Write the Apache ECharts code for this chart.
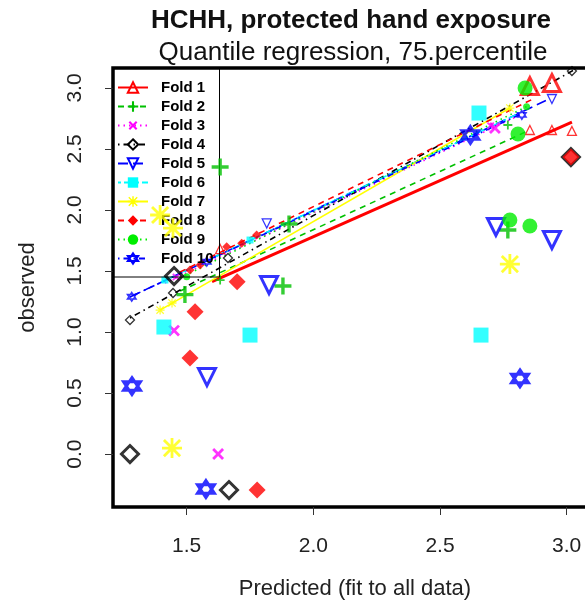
<!DOCTYPE html>
<html>
<head>
<meta charset="utf-8">
<script src="https://cdn.jsdelivr.net/npm/echarts@6/dist/echarts.min.js"></script>
<style>
html, body { margin: 0; padding: 0; background: #fff; }
#chart { width: 585px; height: 608px; }
</style>
</head>
<body>
<div id="chart"></div>
<script>
// ---- data ----
const foldNames = ['Fold 1', 'Fold 2', 'Fold 3', 'Fold 4', 'Fold 5', 'Fold 6', 'Fold 7', 'Fold 8', 'Fold 9', 'Fold 10'];
const xTicks = [1.5, 2.0, 2.5, 3.0];
const yTicks = [0.0, 0.5, 1.0, 1.5, 2.0, 2.5, 3.0];

// held-out observations per fold: [predicted (all data), observed]
const fold1Observed = [[2.855, 3.016], [2.942, 3.041]];
const fold2Observed = [[1.632, 2.352], [1.904, 1.885], [1.493, 1.307], [2.768, 1.836], [1.880, 1.377]];
const fold3Observed = [[2.717, 2.672], [1.450, 1.012], [1.624, 0.0]];
const fold4Observed = [[1.276, 0.0], [1.667, -0.295], [3.017, 2.434], [1.450, 1.459]];
const fold5Observed = [[1.825, 1.385], [1.580, 0.631], [2.721, 1.861], [2.942, 1.754]];
const fold6Observed = [[1.410, 1.041], [1.750, 0.975], [2.662, 0.975], [2.654, 2.795]];
const fold7Observed = [[1.395, 1.959], [1.446, 1.852], [1.442, 0.049], [2.776, 1.557]];
const fold8Observed = [[1.699, 1.412], [1.533, 1.166], [1.513, 0.787], [1.778, -0.295], [3.017, 2.434]];
const fold9Observed = [[2.836, 3.0], [2.776, 1.918], [2.855, 1.869], [2.808, 2.623]];
const fold10Observed = [[1.284, 0.557], [1.576, -0.287], [2.816, 0.620], [2.620, 2.615]];

// fold-model predictions (small symbols)
const fold1Fitted = [[1.632, 1.680], [2.855, 2.656], [2.942, 2.656], [3.021, 2.648]];
const fold2Fitted = [[1.632, 1.426], [2.768, 2.697]];
const fold3Fitted = [[1.458, 1.451], [2.700, 2.690]];
const fold4Fitted = [[1.276, 1.098], [1.446, 1.320], [1.663, 1.607], [3.021, 3.139]];
const fold5Fitted = [[2.942, 2.910], [1.816, 1.890]];
const fold6Fitted = [[1.414, 1.426], [1.750, 1.754]];
const fold7Fitted = [[1.395, 1.180], [1.442, 1.238], [2.776, 2.836]];
const fold8Fitted = [[1.513, 1.508], [1.553, 1.549], [1.658, 1.699], [1.717, 1.727], [1.776, 1.795]];
const fold9Fitted = [[1.500, 1.453], [2.842, 2.847]];
const fold10Fitted = [[1.283, 1.289], [1.579, 1.576], [2.823, 2.779]];

// 75th percentile regression line per fold (end points)
const fold1Line = [[1.600, 1.414], [3.021, 2.721]];
const fold2Line = [[1.474, 1.336], [2.855, 2.656]];
const fold3Line = [[1.414, 1.402], [2.816, 2.779]];
const fold4Line = [[1.276, 1.115], [3.029, 3.148]];
const fold5Line = [[1.276, 1.287], [2.923, 2.902]];
const fold6Line = [[1.400, 1.410], [2.800, 2.780]];
const fold7Line = [[1.395, 1.180], [2.776, 2.836]];
const fold8Line = [[1.474, 1.492], [2.875, 2.918]];
const fold9Line = [[1.474, 1.443], [2.855, 2.861]];
const fold10Line = [[1.276, 1.287], [2.836, 2.803]];

const observedSets = [fold1Observed, fold2Observed, fold3Observed, fold4Observed, fold5Observed,
  fold6Observed, fold7Observed, fold8Observed, fold9Observed, fold10Observed];
const fittedSets = [fold1Fitted, fold2Fitted, fold3Fitted, fold4Fitted, fold5Fitted,
  fold6Fitted, fold7Fitted, fold8Fitted, fold9Fitted, fold10Fitted];
const lineSets = [fold1Line, fold2Line, fold3Line, fold4Line, fold5Line,
  fold6Line, fold7Line, fold8Line, fold9Line, fold10Line];

// ---- symbols & styles ----
const PLUS = 'path://M8,0H12V8H20V12H12V20H8V12H0V8H8Z';
const ASTER = 'path://M8.6,0H11.4V8.6H20V11.4H11.4V20H8.6V11.4H0V8.6H8.6Z' +
  'M2.9,0.9L10,8L17.1,0.9L19.1,2.9L12,10L19.1,17.1L17.1,19.1L10,12L2.9,19.1L0.9,17.1L8,10L0.9,2.9Z';
const HEXAGRAM = 'path://M10,0L18.66,15L1.34,15ZM10,20L1.34,5L18.66,5Z';

const styles = [
  { color: '#ff0000', symbol: 'triangle', open: true, dash: 'solid', width: 3 },
  { color: '#00c000', symbol: PLUS, dash: [6, 5], width: 1.6 },
  { color: '#ff00ff', symbol: PLUS, rotate: 45, dash: [1.5, 4], width: 1.6 },
  { color: '#000000', symbol: 'diamond', open: true, dash: [1.5, 4, 6, 4], width: 1.6 },
  { color: '#0000ff', symbol: 'triangle', rotate: 180, open: true, dash: [10, 5], width: 1.6 },
  { color: '#00ffff', symbol: 'rect', dash: [3, 3, 9, 3], width: 1.6 },
  { color: '#ffff00', symbol: ASTER, dash: 'solid', width: 1.6 },
  { color: '#ff0000', symbol: 'diamond', dash: [6, 5], width: 1.6 },
  { color: '#00ee00', symbol: 'circle', dash: [1.5, 4], width: 1.6 },
  { color: '#0000ff', symbol: HEXAGRAM, open: true, dash: [1.5, 4, 6, 4], width: 1.6 }
];

function markerStyle(s, bw) {
  return s.open
    ? { color: 'rgba(255,255,255,0)', borderColor: s.color, borderWidth: bw }
    : { color: s.color, borderWidth: 0 };
}

const FONT = 'Liberation Sans, Arial, sans-serif';
const series = [];

// regression lines (first, so the legend picks their line + symbol icon)
foldNames.forEach((name, i) => {
  const s = styles[i];
  series.push({
    type: 'line', name: name, data: lineSets[i],
    showSymbol: false, symbol: s.symbol, symbolRotate: s.rotate || 0,
    itemStyle: markerStyle(s, 1.8),
    lineStyle: { color: s.color, width: s.width, type: s.dash },
    silent: true, z: 2
  });
});
// small symbols
foldNames.forEach((name, i) => {
  const s = styles[i];
  series.push({
    type: 'scatter', name: name, data: fittedSets[i],
    symbol: s.symbol, symbolRotate: s.rotate || 0,
    symbolSize: s.symbol === 'circle' || s.symbol === 'rect' ? 7 : 9,
    itemStyle: markerStyle(s, 1.3), silent: true, z: 3
  });
});
// large symbols
foldNames.forEach((name, i) => {
  const s = styles[i];
  let size = 17;
  if (s.symbol === 'circle' || s.symbol === 'rect') size = 15;
  if (i === 2) size = 14;
  if (i === 6) size = 20;
  series.push({
    type: 'scatter', name: name, data: observedSets[i],
    symbol: s.symbol, symbolRotate: s.rotate || 0, symbolSize: size,
    itemStyle: markerStyle(s, 3), silent: true, z: 4
  });
});

const chart = echarts.init(document.getElementById('chart'), null, { renderer: 'canvas' });
chart.setOption({
  animation: false,
  backgroundColor: '#fff',
  grid: {
    left: 113, top: 68, right: -12, bottom: 101,
    outerBoundsMode: 'none', containLabel: false,
    show: true, borderColor: '#000', borderWidth: 3.5, backgroundColor: 'transparent'
  },
  xAxis: {
    type: 'value', min: 1.209, max: 3.120,
    axisLine: { show: false, onZero: false }, splitLine: { show: false },
    axisTick: { show: true, length: 8, lineStyle: { color: '#333', width: 1 }, customValues: xTicks },
    axisLabel: {
      customValues: xTicks, margin: 29, fontSize: 21, color: '#222', fontFamily: FONT,
      formatter: v => v.toFixed(1)
    },
    name: 'Predicted (fit to all data)', nameLocation: 'middle', nameGap: 71,
    nameTextStyle: { fontSize: 22, color: '#222', fontFamily: FONT }
  },
  yAxis: {
    type: 'value', min: -0.434, max: 3.164,
    axisLine: { show: false, onZero: false }, splitLine: { show: false },
    axisTick: { show: true, length: 8, lineStyle: { color: '#333', width: 1 }, customValues: yTicks },
    axisLabel: {
      customValues: yTicks, rotate: 90, margin: 27, fontSize: 21, color: '#222', fontFamily: FONT,
      formatter: v => v.toFixed(1)
    },
    name: 'observed', nameLocation: 'middle', nameGap: 74, nameRotate: 90,
    nameTextStyle: { fontSize: 22, color: '#222', fontFamily: FONT }
  },
  legend: {
    data: foldNames, orient: 'vertical', left: 113, top: 68,
    itemWidth: 30, itemHeight: 13, itemGap: 4,
    padding: [12, 6, 11, 4],
    borderColor: '#000', borderWidth: 1, backgroundColor: 'transparent',
    selectedMode: false,
    textStyle: { fontFamily: FONT, fontWeight: 'bold', fontSize: 15, color: '#000', padding: [0, 0, 0, 8] }
  },
  graphic: [
    { type: 'text', x: 351, y: 21, silent: true,
      style: { text: 'HCHH, protected hand exposure', font: 'bold 26px ' + FONT, fill: '#111',
        textAlign: 'center', textVerticalAlign: 'middle' } },
    { type: 'text', x: 353, y: 53, silent: true,
      style: { text: 'Quantile regression, 75.percentile', font: '26px ' + FONT, fill: '#111',
        textAlign: 'center', textVerticalAlign: 'middle' } }
  ],
  series: series
});
</script>
</body>
</html>
